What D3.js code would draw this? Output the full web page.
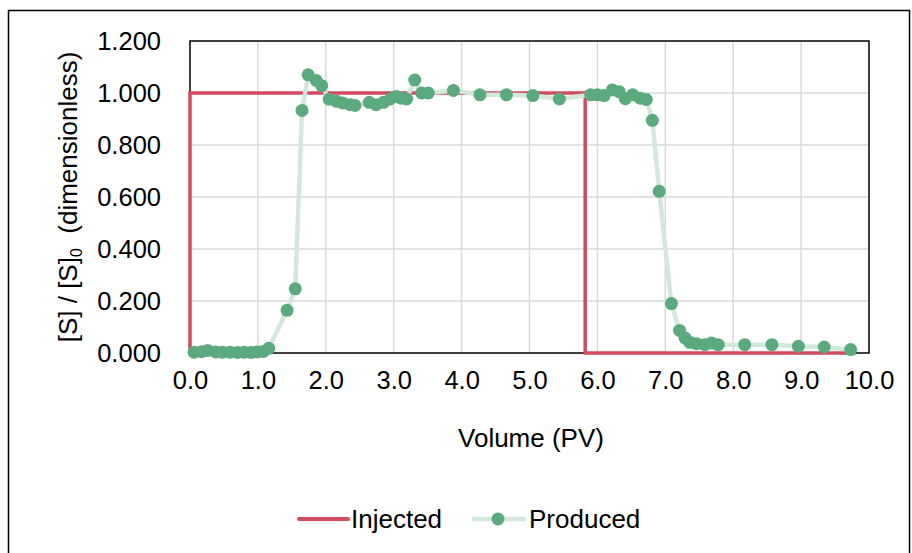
<!DOCTYPE html>
<html>
<head>
<meta charset="utf-8">
<script src="https://cdn.jsdelivr.net/npm/d3@7"></script>
<style>
  html, body { margin: 0; padding: 0; background: #fff; }
  svg { display: block; font-family: "Liberation Sans", Arial, sans-serif; }
</style>
</head>
<body>
<svg id="chart" width="912" height="553"></svg>
<script>
// Injected slug (step input) and produced effluent concentration vs pore volumes
const injectedVolume = [0, 0, 5.82, 5.82, 9.8];
const injectedConc   = [0, 1, 1, 0, 0];

const producedVolume = [
  0.06, 0.17, 0.26, 0.38, 0.48, 0.59, 0.70, 0.80, 0.90, 0.99, 1.08, 1.16,
  1.43, 1.55, 1.65, 1.74, 1.86, 1.94, 2.05, 2.16, 2.25, 2.36, 2.43,
  2.64, 2.74, 2.85, 2.95, 3.04, 3.11, 3.19, 3.31, 3.41, 3.51, 3.88,
  4.27, 4.66, 5.05, 5.44, 5.90, 6.00, 6.10, 6.22, 6.32, 6.41, 6.52,
  6.63, 6.72, 6.81, 6.91, 7.09, 7.21, 7.29, 7.36, 7.46, 7.58, 7.68,
  7.78, 8.17, 8.57, 8.96, 9.34, 9.73
];
const producedConc = [
  0.003, 0.005, 0.010, 0.004, 0.003, 0.003, 0.002, 0.003, 0.002, 0.004, 0.006, 0.018,
  0.164, 0.247, 0.933, 1.070, 1.048, 1.028, 0.976, 0.968, 0.962, 0.955, 0.952,
  0.964, 0.955, 0.964, 0.977, 0.987, 0.980, 0.977, 1.050, 1.000, 1.000, 1.010,
  0.993, 0.993, 0.990, 0.977, 0.993, 0.993, 0.990, 1.012, 1.005, 0.978, 0.993,
  0.980, 0.975, 0.895, 0.622, 0.190, 0.087, 0.058, 0.041, 0.036, 0.032, 0.038,
  0.032, 0.032, 0.032, 0.026, 0.023, 0.013
];

const xTicks = [0, 1, 2, 3, 4, 5, 6, 7, 8, 9, 10];
const yTicks = [0, 0.2, 0.4, 0.6, 0.8, 1.0, 1.2];

const seriesNames = ["Injected", "Produced"];
const xTitle = "Volume (PV)";

const colors = {
  injected: "#d24a5e",
  producedLine: "#d3e8db",
  producedMarker: "#5baa7e",
  grid: "#d9d9d9",
  axis: "#000000",
  text: "#000000"
};

const fontFamily = "'Liberation Sans', Arial, sans-serif";
const tickFont = 25.5;
const labelFont = 26;

const svg = d3.select("#chart");
const plot = { left: 190, right: 869, top: 41, bottom: 353 };

const x = d3.scaleLinear().domain([0, 10]).range([plot.left, plot.right]);
const y = d3.scaleLinear().domain([0, 1.2]).range([plot.bottom, plot.top]);

// outer chart frame
svg.append("rect")
  .attr("x", 8.5).attr("y", 10.5)
  .attr("width", 901).attr("height", 560)
  .attr("fill", "none").attr("stroke", "#000").attr("stroke-width", 1.5);

// gridlines
const grid = svg.append("g");
grid.selectAll("line.v").data(xTicks.slice(1, -1)).join("line")
  .attr("x1", d => x(d)).attr("x2", d => x(d))
  .attr("y1", plot.top).attr("y2", plot.bottom)
  .attr("stroke", colors.grid).attr("stroke-width", 1.5);
grid.selectAll("line.h").data(yTicks.slice(1, -1)).join("line")
  .attr("x1", plot.left).attr("x2", plot.right)
  .attr("y1", d => y(d)).attr("y2", d => y(d))
  .attr("stroke", colors.grid).attr("stroke-width", 1.5);

// plot area border
svg.append("rect")
  .attr("x", plot.left).attr("y", plot.top)
  .attr("width", plot.right - plot.left).attr("height", plot.bottom - plot.top)
  .attr("fill", "none").attr("stroke", colors.axis).attr("stroke-width", 1.5);

// y axis labels
const yAxis = d3.axisLeft(y).tickValues(yTicks).tickFormat(d3.format(".3f")).tickSize(0).tickPadding(29);
svg.append("g").attr("transform", `translate(${plot.left},0)`).call(yAxis)
  .call(g => g.select(".domain").remove())
  .selectAll("text")
  .attr("font-size", tickFont).attr("fill", colors.text)
  .attr("font-family", fontFamily);

// x axis labels
const xAxis = d3.axisBottom(x).tickValues(xTicks).tickFormat(d3.format(".1f")).tickSize(0).tickPadding(18);
svg.append("g").attr("transform", `translate(0,${plot.bottom})`).call(xAxis)
  .call(g => g.select(".domain").remove())
  .selectAll("text")
  .attr("font-size", tickFont).attr("fill", colors.text)
  .attr("font-family", fontFamily);

// axis titles
svg.append("text")
  .attr("x", 531).attr("y", 447)
  .attr("text-anchor", "middle").attr("font-size", labelFont).attr("fill", colors.text)
  .text(xTitle);

const yTitle = svg.append("text")
  .attr("transform", `translate(77,${(plot.top + plot.bottom) / 2}) rotate(-90)`)
  .attr("text-anchor", "middle").attr("font-size", labelFont).attr("fill", colors.text);
yTitle.append("tspan").text("[S] / [S]");
yTitle.append("tspan").attr("font-size", 16).attr("dy", 5).text("0");
yTitle.append("tspan").attr("dy", -5).text("\u00a0 (dimensionless)");

// injected step
const injected = injectedVolume.map((v, i) => [v, injectedConc[i]]);
svg.append("path")
  .datum(injected)
  .attr("d", d3.line().x(d => x(d[0])).y(d => y(d[1])))
  .attr("fill", "none").attr("stroke", colors.injected).attr("stroke-width", 3.5)
  .attr("stroke-linejoin", "miter");

// produced series
const produced = producedVolume.map((v, i) => [v, producedConc[i]]);
svg.append("path")
  .datum(produced)
  .attr("d", d3.line().x(d => x(d[0])).y(d => y(d[1])))
  .attr("fill", "none").attr("stroke", colors.producedLine).attr("stroke-width", 4.5)
  .attr("stroke-linejoin", "round");
svg.append("g").selectAll("circle").data(produced).join("circle")
  .attr("cx", d => x(d[0])).attr("cy", d => y(d[1])).attr("r", 6.5)
  .attr("fill", colors.producedMarker);

// legend
const legend = svg.append("g").attr("font-size", labelFont).attr("fill", colors.text);
const ly = 519;
legend.append("line")
  .attr("x1", 299).attr("x2", 348).attr("y1", ly).attr("y2", ly)
  .attr("stroke", colors.injected).attr("stroke-width", 4).attr("stroke-linecap", "round");
legend.append("text").attr("x", 351).attr("y", ly + 9).text(seriesNames[0]);
legend.append("line")
  .attr("x1", 474).attr("x2", 524).attr("y1", ly).attr("y2", ly)
  .attr("stroke", colors.producedLine).attr("stroke-width", 4.5).attr("stroke-linecap", "round");
legend.append("circle").attr("cx", 498).attr("cy", ly).attr("r", 6.5).attr("fill", colors.producedMarker);
legend.append("text").attr("x", 529).attr("y", ly + 9).text(seriesNames[1]);
</script>
</body>
</html>
